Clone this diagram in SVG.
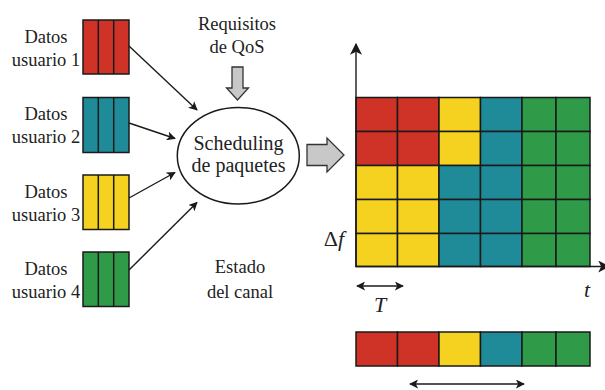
<svg xmlns="http://www.w3.org/2000/svg" width="605" height="390" viewBox="0 0 605 390">
  <style>
    .lbl { font-family: "Liberation Serif", "DejaVu Serif", serif; font-size: 18.5px; fill: #222; text-anchor: middle; }
    .big { font-size: 20px; }
    .ax { font-size: 22px; }
    .it { font-style: italic; }
    .cell { stroke: #1a1a1a; stroke-width: 1.5; }
    .r { fill: #cf3328; }
    .b { fill: #1f8b98; }
    .y { fill: #f4d21f; }
    .g { fill: #2f9a47; }
    .ln { stroke: #1a1a1a; stroke-width: 1.4; fill: none; }
    .fat { fill: #c8c8c8; stroke: #333; stroke-width: 1.3; }
  </style>
  <defs>
    <marker id="ah" viewBox="0 0 10 10" refX="9" refY="5" markerWidth="9" markerHeight="9" markerUnits="userSpaceOnUse" orient="auto-start-reverse">
      <path d="M0,0 L10,5 L0,10 L2.5,5 Z" fill="#1a1a1a"/>
    </marker>
    <marker id="ahb" viewBox="0 0 10 10" refX="9" refY="5" markerWidth="12" markerHeight="12" markerUnits="userSpaceOnUse" orient="auto-start-reverse">
      <path d="M0,0 L10,5 L0,10 L2.5,5 Z" fill="#1a1a1a"/>
    </marker>
  </defs>

  <rect width="605" height="390" fill="#ffffff"/>

  <!-- user queues -->
  <g id="user1">
    <text class="lbl" x="46" y="43">Datos</text>
    <text class="lbl" x="46" y="66">usuario 1</text>
    <rect class="cell r" x="83" y="20" width="46" height="54"/>
    <line class="cell" x1="98.3" y1="20" x2="98.3" y2="74"/>
    <line class="cell" x1="113.7" y1="20" x2="113.7" y2="74"/>
  </g>
  <g id="user2">
    <text class="lbl" x="46" y="120">Datos</text>
    <text class="lbl" x="46" y="143">usuario 2</text>
    <rect class="cell b" x="83" y="97.5" width="46" height="55"/>
    <line class="cell" x1="98.3" y1="97.5" x2="98.3" y2="152.5"/>
    <line class="cell" x1="113.7" y1="97.5" x2="113.7" y2="152.5"/>
  </g>
  <g id="user3">
    <text class="lbl" x="46" y="198">Datos</text>
    <text class="lbl" x="46" y="221">usuario 3</text>
    <rect class="cell y" x="83" y="175" width="46" height="54.5"/>
    <line class="cell" x1="98.3" y1="175" x2="98.3" y2="229.5"/>
    <line class="cell" x1="113.7" y1="175" x2="113.7" y2="229.5"/>
  </g>
  <g id="user4">
    <text class="lbl" x="46" y="275">Datos</text>
    <text class="lbl" x="46" y="298">usuario 4</text>
    <rect class="cell g" x="83" y="252" width="46" height="54.5"/>
    <line class="cell" x1="98.3" y1="252" x2="98.3" y2="306.5"/>
    <line class="cell" x1="113.7" y1="252" x2="113.7" y2="306.5"/>
  </g>

  <!-- side inputs -->
  <g id="qos">
    <text class="lbl" x="237" y="30">Requisitos</text>
    <text class="lbl" x="237" y="53">de QoS</text>
    <path class="fat" d="M232,67 H243 V88 H248.5 L237.5,100 L226.5,88 H232 Z"/>
  </g>
  <g id="canal">
    <text class="lbl" x="240" y="273">Estado</text>
    <text class="lbl" x="240" y="298">del canal</text>
  </g>

  <!-- scheduler -->
  <g id="scheduler">
    <ellipse cx="238.3" cy="155.7" rx="61" ry="48.3" fill="#fff" stroke="#1a1a1a" stroke-width="1.5"/>
    <text class="lbl big" x="238.5" y="150">Scheduling</text>
    <text class="lbl big" x="238.5" y="172">de paquetes</text>
  </g>

  <g id="out-arrow">
    <path class="fat" d="M307,144.5 H327 V138 L344,155 L327,172 V165.5 H307 Z"/>
  </g>

  <!-- connectors -->
  <g id="connectors">
    <line class="ln" x1="129" y1="46" x2="197" y2="110" marker-end="url(#ah)"/>
    <line class="ln" x1="129" y1="123" x2="175" y2="138.5" marker-end="url(#ah)"/>
    <line class="ln" x1="129" y1="198" x2="175" y2="172.5" marker-end="url(#ah)"/>
    <line class="ln" x1="129" y1="270" x2="197" y2="202.5" marker-end="url(#ah)"/>
  </g>

  <!-- time-frequency resource grid -->
  <g id="grid">
    <rect class="cell r" x="356" y="97.5" width="41.5" height="34"/>
    <rect class="cell r" x="397.5" y="97.5" width="41.5" height="34"/>
    <rect class="cell y" x="439" y="97.5" width="41.5" height="34"/>
    <rect class="cell b" x="480.5" y="97.5" width="41.5" height="34"/>
    <rect class="cell g" x="522" y="97.5" width="34" height="34"/>
    <rect class="cell g" x="556" y="97.5" width="34" height="34"/>

    <rect class="cell r" x="356" y="131.5" width="41.5" height="34"/>
    <rect class="cell r" x="397.5" y="131.5" width="41.5" height="34"/>
    <rect class="cell y" x="439" y="131.5" width="41.5" height="34"/>
    <rect class="cell b" x="480.5" y="131.5" width="41.5" height="34"/>
    <rect class="cell g" x="522" y="131.5" width="34" height="34"/>
    <rect class="cell g" x="556" y="131.5" width="34" height="34"/>

    <rect class="cell y" x="356" y="165.5" width="41.5" height="34"/>
    <rect class="cell y" x="397.5" y="165.5" width="41.5" height="34"/>
    <rect class="cell b" x="439" y="165.5" width="41.5" height="34"/>
    <rect class="cell b" x="480.5" y="165.5" width="41.5" height="34"/>
    <rect class="cell g" x="522" y="165.5" width="34" height="34"/>
    <rect class="cell g" x="556" y="165.5" width="34" height="34"/>

    <rect class="cell y" x="356" y="199.5" width="41.5" height="34"/>
    <rect class="cell y" x="397.5" y="199.5" width="41.5" height="34"/>
    <rect class="cell b" x="439" y="199.5" width="41.5" height="34"/>
    <rect class="cell b" x="480.5" y="199.5" width="41.5" height="34"/>
    <rect class="cell g" x="522" y="199.5" width="34" height="34"/>
    <rect class="cell g" x="556" y="199.5" width="34" height="34"/>

    <rect class="cell y" x="356" y="233.5" width="41.5" height="33"/>
    <rect class="cell y" x="397.5" y="233.5" width="41.5" height="33"/>
    <rect class="cell b" x="439" y="233.5" width="41.5" height="33"/>
    <rect class="cell b" x="480.5" y="233.5" width="41.5" height="33"/>
    <rect class="cell g" x="522" y="233.5" width="34" height="33"/>
    <rect class="cell g" x="556" y="233.5" width="34" height="33"/>
  </g>

  <!-- axes -->
  <g id="axes">
    <line class="ln" x1="356" y1="267" x2="356" y2="44" marker-end="url(#ahb)"/>
    <line class="ln" x1="356" y1="266.5" x2="609" y2="266.5" marker-end="url(#ahb)"/>
    <text class="lbl ax" x="334" y="246">Δ<tspan class="it">f</tspan></text>
    <text class="lbl ax it" x="587" y="297">t</text>
    <line class="ln" x1="357" y1="286" x2="403" y2="286" marker-start="url(#ah)" marker-end="url(#ah)"/>
    <text class="lbl ax it" x="380" y="312">T</text>
  </g>

  <!-- single-carrier frame -->
  <g id="frame">
    <rect class="cell r" x="356" y="332" width="41.5" height="34"/>
    <rect class="cell r" x="397.5" y="332" width="41.5" height="34"/>
    <rect class="cell y" x="439" y="332" width="41.5" height="34"/>
    <rect class="cell b" x="480.5" y="332" width="41.5" height="34"/>
    <rect class="cell g" x="522" y="332" width="34" height="34"/>
    <rect class="cell g" x="556" y="332" width="34" height="34"/>
    <line class="ln" x1="410" y1="384" x2="524" y2="384" marker-start="url(#ah)" marker-end="url(#ah)"/>
  </g>
</svg>
